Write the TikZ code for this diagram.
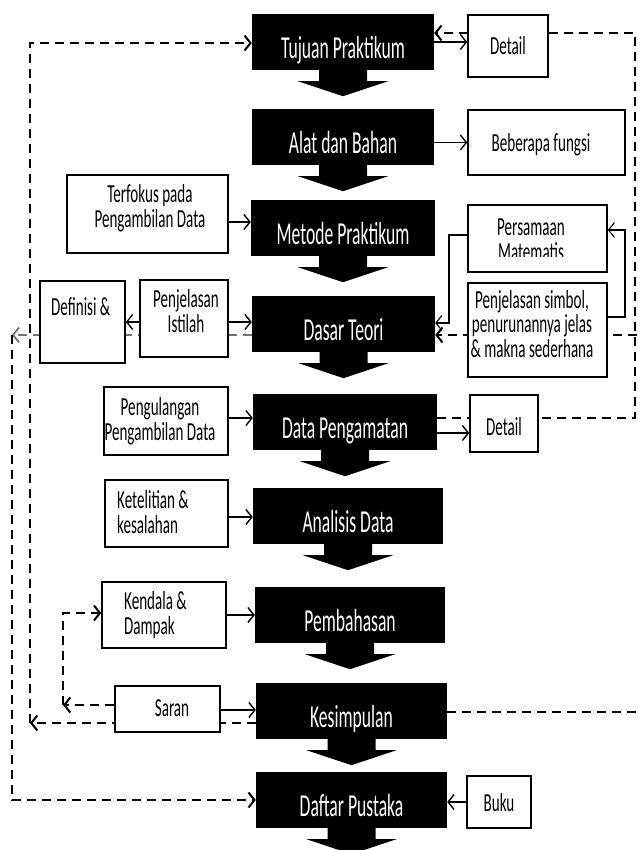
\documentclass[tikz,border=0pt]{standalone}
\usepackage{graphicx}
\usepackage{fontspec}
\setmainfont{Carlito}
\usetikzlibrary{calc,arrows.meta}

% condensed lettering used throughout the chart
\newcommand{\nar}[1]{\scalebox{0.55}[1]{#1}}
\newcommand{\narw}[1]{\scalebox{0.58}[1]{#1}}

\pgfdeclarelayer{paper}
\pgfdeclarelayer{wires}
\pgfsetlayers{paper,wires,main}

\tikzset{
  blk/.style={rectangle, fill=black, draw=none, inner sep=0pt, minimum height=56pt},
  blktxt/.style={text=white, inner sep=0pt, font=\fontsize{32}{33}\selectfont,
                 text height=22pt, text depth=7pt},
  wbox/.style={rectangle, draw=black, line width=1.5pt, fill=white, inner sep=0pt},
  wtxt/.style={inner sep=0pt, font=\fontsize{26}{22}\selectfont},
  tipbarb/.style={-{Straight Barb[length=6pt,width=15pt]}},
  link/.style={line width=1.4pt, tipbarb},
  thinlink/.style={line width=1.1pt, tipbarb},
  dlink/.style={line width=2pt, dash pattern=on 9pt off 6pt},
  glink/.style={line width=1.7pt, draw=black!55, dash pattern=on 9pt off 6pt},
}

% black step box with a downward block arrow under it
\newcommand{\flowstep}[5]{%
  \node[blk, minimum width=#4pt] (#1) at (#2,#3) {};
  \fill ($(#1.south)+(-24,-1)$) -- ($(#1.south)+(24,-1)$) -- ($(#1.south)+(24,11)$)
     -- ($(#1.south)+(45,11)$) -- ($(#1.south)+(0,26)$) -- ($(#1.south)+(-45,11)$)
     -- ($(#1.south)+(-24,11)$) -- cycle;
  \node[blktxt] (#1-t) at ($(#1.center)+(0,9)$) {\nar{#5}};
}

\begin{document}
\begin{tikzpicture}[x=1pt,y=-1pt]
\useasboundingbox (0,0) rectangle (637,850);
\begin{pgfonlayer}{paper}
  \fill[white] (0,0) rectangle (637,850);
\end{pgfonlayer}

% main sequence of report sections
\flowstep{tujuan}{343}{42}{182}{Tujuan Praktikum}
\flowstep{alat}{343}{137}{182}{Alat dan Bahan}
\flowstep{metode}{343}{228}{184}{Metode Praktikum}
\flowstep{dasar}{343.5}{324}{183}{Dasar Teori}
\flowstep{datap}{345}{422}{184}{Data Pengamatan}
\flowstep{analisis}{348}{516}{190}{Analisis Data}
\flowstep{bahas}{350}{615}{190}{Pembahasan}
\flowstep{kesim}{351.5}{711}{191}{Kesimpulan}
\flowstep{daftar}{351.5}{800}{191}{Daftar Pustaka}

% side notes
\node[wbox, minimum width=80pt, minimum height=62pt] (det1) at (508,46) {};
\node[wtxt] (det1-t) at (508,46) {\narw{Detail}};

\node[wbox, minimum width=157pt, minimum height=65pt] (beb) at (546.5,142.5) {};
\node[wtxt] (beb-t) at (541,145) {\narw{Beberapa fungsi}};

\node[wbox, minimum width=161pt, minimum height=78pt] (terf) at (147.5,214) {};
\node[wtxt] (terf-t) at (150,209) {\narw{\begin{tabular}{@{}c@{}}Terfokus pada\\Pengambilan Data\end{tabular}}};

\node[wbox, minimum width=85pt, minimum height=82pt] (defin) at (82.5,322) {};
\node[wtxt, anchor=west] (defin-t) at (51,307) {\narw{Definisi \&}};

\node[wbox, minimum width=88pt, minimum height=77pt] (istilah) at (184,318.5) {};
\node[wtxt] (istilah-t) at (186,314) {\narw{\begin{tabular}{@{}c@{}}Penjelasan\\Istilah\end{tabular}}};

\node[wbox, minimum width=139pt, minimum height=67pt] (pers) at (537.5,238.5) {};
\begin{scope}
  \clip (470,207) rectangle (605,256);
  \node[wtxt] (pers-t) at (531,243) {\narw{\begin{tabular}{@{}c@{}}Persamaan\\Matematis\end{tabular}}};
\end{scope}

\node[wbox, minimum width=139pt, minimum height=94pt] (simb) at (537.5,330) {};
\node[wtxt] (simb-t) at (532,327) {\narw{\begin{tabular}{@{}c@{}}Penjelasan simbol,\\penurunannya jelas\\\& makna sederhana\end{tabular}}};

\node[wbox, minimum width=124pt, minimum height=68pt] (pengul) at (166,421) {};
\node[wtxt] (pengul-t) at (160,422) {\narw{\begin{tabular}{@{}c@{}}Pengulangan\\Pengambilan Data\end{tabular}}};

\node[wbox, minimum width=68pt, minimum height=57pt] (det2) at (504,423.5) {};
\node[wtxt] (det2-t) at (504,427) {\narw{Detail}};

\node[wbox, minimum width=123pt, minimum height=67pt] (telit) at (166.5,513.5) {};
\node[wtxt, anchor=west] (telit-t) at (117,515) {\narw{\begin{tabular}{@{}l@{}}Ketelitian \&\\kesalahan\end{tabular}}};

\node[wbox, minimum width=124pt, minimum height=66pt] (kend) at (164,615) {};
\node[wtxt, anchor=west] (kend-t) at (124,616) {\narw{\begin{tabular}{@{}l@{}}Kendala \&\\Dampak\end{tabular}}};

\node[wbox, minimum width=105pt, minimum height=46pt] (saran) at (167.5,709) {};
\node[wtxt] (saran-t) at (172,708) {\narw{Saran}};

\node[wbox, minimum width=64pt, minimum height=52pt] (buku) at (499,802) {};
\node[wtxt] (buku-t) at (499,803) {\narw{Buku}};

% free bends of the feedback lines
\coordinate (rtop) at (635,33);
\coordinate (rmid) at (635,418);
\coordinate (redge1) at (637,335);
\coordinate (redge2) at (637,712);
\coordinate (lin) at (12,335);
\coordinate (lbot) at (12,800);
\coordinate (lout) at (30,723);
\coordinate (ltop) at (30,43);
\coordinate (kin) at (63,705);
\coordinate (ktop) at (63,613);
\coordinate (pbend1) at (449,235);
\coordinate (pbend2) at (449,323);
\coordinate (sbend1) at (625,317);
\coordinate (sbend2) at (625,230);

\begin{pgfonlayer}{wires}
  % solid links between notes and sections
  \draw[link] (tujuan.east) -- (tujuan.east -| det1.west);
  \draw[link] (alat.east |- beb.west) -- (beb.west);
  \draw[link] (terf.east |- 0,222) -- (metode.west |- 0,222);
  \draw[link] (istilah.east |- 0,322) -- (dasar.west |- 0,322);
  \draw[link] (istilah.west |- 0,322) -- (defin.east |- 0,322);
  \draw[link] (datap.east |- 0,433) -- (det2.west |- 0,433);
  \draw[link] (pengul.east |- 0,418) -- (datap.west |- 0,418);
  \draw[link] (telit.east |- 0,517) -- (analisis.west |- 0,517);
  \draw[link] (kend.east |- 0,615) -- (bahas.west |- 0,615);
  \draw[link] (saran.east |- 0,710) -- (kesim.west |- 0,710);
  \draw[link] (buku.west) -- (daftar.east |- buku.west);
  \draw[thinlink] (pers.west |- pbend1) -- (pbend1) -- (pbend2) -- (dasar.east |- pbend2);
  \draw[thinlink] (simb.east |- sbend1) -- (sbend1) -- (sbend2) -- (pers.east |- sbend2);

  % dashed feedback lines
  \draw[dlink, tipbarb] (datap.east |- rmid) -- (rmid) -- (rtop) -- (tujuan.east |- rtop);
  \draw[dlink, tipbarb] (redge1) -- (dasar.east |- redge1);
  \draw[dlink] (kesim.east |- redge2) -- (redge2);
  \draw[glink, tipbarb] (dasar.west |- lin) -- (lin);
  \draw[dlink, tipbarb] (lin) -- (lbot) -- (daftar.west |- lbot);
  \draw[dlink, tipbarb] (kesim.west |- lout) -- (lout);
  \draw[dlink, tipbarb] (lout) -- (ltop) -- (tujuan.west |- ltop);
  \draw[dlink, tipbarb] (saran.west |- kin) -- (kin);
  \draw[dlink, tipbarb] (kin) -- (ktop) -- (kend.west |- ktop);
\end{pgfonlayer}
\end{tikzpicture}
\end{document}
